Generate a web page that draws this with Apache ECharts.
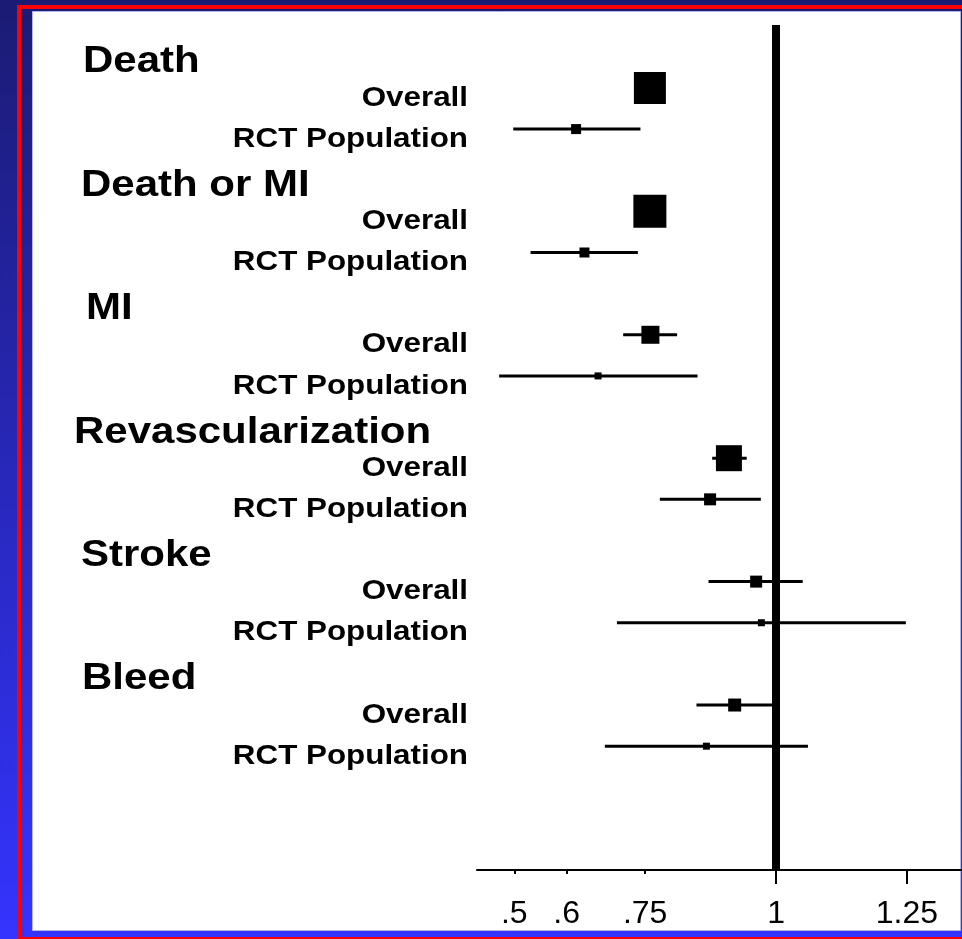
<!DOCTYPE html>
<html>
<head>
<meta charset="utf-8">
<script src="https://cdn.jsdelivr.net/npm/echarts@6/dist/echarts.min.js"></script>
<style>
  html, body { margin: 0; padding: 0; background: #fff; }
  #chart { width: 962px; height: 939px; }
</style>
</head>
<body>
<div id="chart"></div>
<script>
// Outcome groups and the two analysis populations shown for each
const outcomes = ['Death', 'Death or MI', 'MI', 'Revascularization', 'Stroke', 'Bleed'];
const populations = ['Overall', 'RCT Population'];

// Point estimates with lower / upper confidence limits
const overallEst = [0.759, 0.759, 0.760, 0.910, 0.962, 0.921];
const overallLo  = [0.740, 0.740, 0.708, 0.878, 0.871, 0.848];
const overallHi  = [0.780, 0.780, 0.811, 0.944, 1.051, 0.995];

const rctEst = [0.618, 0.634, 0.660, 0.874, 0.972, 0.867];
const rctLo  = [0.498, 0.531, 0.471, 0.778, 0.696, 0.673];
const rctHi  = [0.741, 0.736, 0.850, 0.971, 1.248, 1.061];

// Relative weights (drive box size)
const overallWeight = [3.2, 3.3, 1.8, 2.6, 1.2, 1.3];
const rctWeight     = [1.0, 1.0, 0.7, 1.2, 0.7, 0.7];

// Axis ticks
const tickValues = [0.5, 0.6, 0.75, 1, 1.25];
const tickLabels = ['.5', '.6', '.75', '1', '1.25'];
const minorTicks = [0.5, 0.6, 0.75];
const majorTicks = [1, 1.25];
const nullValue = 1;

// ---- layout -------------------------------------------------------------
const ROWS_PER_GROUP = 3;           // Overall, RCT, gap
const X_MIN = 0.4287, X_MAX = 1.3553;
const FONT = '"Liberation Sans", Arial, Helvetica, sans-serif';
const STRETCH = 1.12;

// forest rows: [row, estimate, lower, upper, weight]
const forestRows = [];
const labelRows = [];   // {row, text, kind}
outcomes.forEach((name, i) => {
  const base = i * ROWS_PER_GROUP;
  labelRows.push({ row: base, text: name, kind: 'header', idx: i });
  forestRows.push([base, overallEst[i], overallLo[i], overallHi[i], overallWeight[i]]);
  labelRows.push({ row: base, text: populations[0], kind: 'sub' });
  forestRows.push([base + 1, rctEst[i], rctLo[i], rctHi[i], rctWeight[i]]);
  labelRows.push({ row: base + 1, text: populations[1], kind: 'sub' });
});

const headerLeft = [83, 81, 86, 74, 81, 82];

const chart = echarts.init(document.getElementById('chart'), null, { renderer: 'canvas' });

const option = {
  animation: false,
  graphic: [
    {
      type: 'rect', z: -10, silent: true,
      shape: { x: 0, y: 0, width: 962, height: 939 },
      style: {
        fill: new echarts.graphic.LinearGradient(0, 0, 0, 1, [
          { offset: 0, color: '#1b1b74' },
          { offset: 1, color: '#3434ff' }
        ])
      }
    },
    {
      type: 'rect', z: -9, silent: true,
      shape: { x: 19, y: 7, width: 960, height: 932 },
      style: { fill: 'none', stroke: '#ff0000', lineWidth: 4 }
    },
    {
      type: 'rect', z: -8, silent: true,
      shape: { x: 32.5, y: 11.5, width: 928, height: 919 },
      style: { fill: '#ffffff', stroke: '#b4b4e6', lineWidth: 1 }
    }
  ],
  grid: { left: 477, right: 0, top: 25, bottom: 69 },
  xAxis: [
    {
      type: 'value', min: X_MIN, max: X_MAX, position: 'bottom', offset: 0,
      splitLine: { show: false },
      axisLine: { show: true, onZero: false, lineStyle: { color: '#000', width: 2 } },
      axisTick: { show: true, customValues: minorTicks, length: 4, lineStyle: { color: '#000', width: 2 } },
      axisLabel: {
        show: true, customValues: tickValues, margin: 28,
        color: '#000', fontSize: 32, fontFamily: FONT,
        formatter: v => tickLabels[tickValues.indexOf(Math.round(v * 100) / 100)] ?? ''
      }
    },
    {
      type: 'value', min: X_MIN, max: X_MAX, position: 'bottom', offset: 0,
      splitLine: { show: false },
      axisLine: { show: false, onZero: false },
      axisTick: { show: true, customValues: majorTicks, length: 14, lineStyle: { color: '#000', width: 2 } },
      axisLabel: { show: false }
    }
  ],
  yAxis: {
    type: 'value', min: -1.53, max: 19.01, inverse: true, show: false
  },
  series: [
    {
      type: 'custom',
      xAxisIndex: 0,
      data: forestRows,
      encode: { x: [1, 2, 3], y: 0 },
      clip: false,
      renderItem(params, api) {
        const row = api.value(0);
        const c = api.coord([api.value(1), row]);
        const l = api.coord([api.value(2), row]);
        const h = api.coord([api.value(3), row]);
        const s = api.value(4) * 10;
        return {
          type: 'group',
          children: [
            { type: 'line', shape: { x1: l[0], y1: l[1], x2: h[0], y2: h[1] },
              style: { stroke: '#000', lineWidth: 3 } },
            { type: 'rect', shape: { x: c[0] - s / 2, y: c[1] - s / 2, width: s, height: s },
              style: { fill: '#000' } }
          ]
        };
      },
      markLine: {
        silent: true, symbol: 'none', animation: false,
        label: { show: false },
        lineStyle: { color: '#000', width: 8, type: 'solid' },
        data: [{ xAxis: nullValue }]
      }
    },
    {
      type: 'custom',
      xAxisIndex: 0,
      data: labelRows.map(r => [X_MIN, r.row]),
      encode: { x: 0, y: 1 },
      clip: false,
      silent: true,
      renderItem(params, api) {
        const r = labelRows[params.dataIndex];
        if (r.kind === 'header') {
          const y = api.coord([X_MIN, r.row - 0.63])[1];
          return {
            type: 'text', x: headerLeft[r.idx], y: y, scaleX: STRETCH,
            style: { text: r.text, fill: '#000', align: 'left', verticalAlign: 'middle',
                     font: 'bold 37.5px ' + FONT }
          };
        }
        const y = api.coord([X_MIN, r.row])[1] + 10;
        return {
          type: 'text', x: 468, y: y, scaleX: STRETCH,
          style: { text: r.text, fill: '#000', align: 'right', verticalAlign: 'middle',
                   font: 'bold 28px ' + FONT }
        };
      }
    }
  ]
};

chart.setOption(option);
</script>
</body>
</html>
